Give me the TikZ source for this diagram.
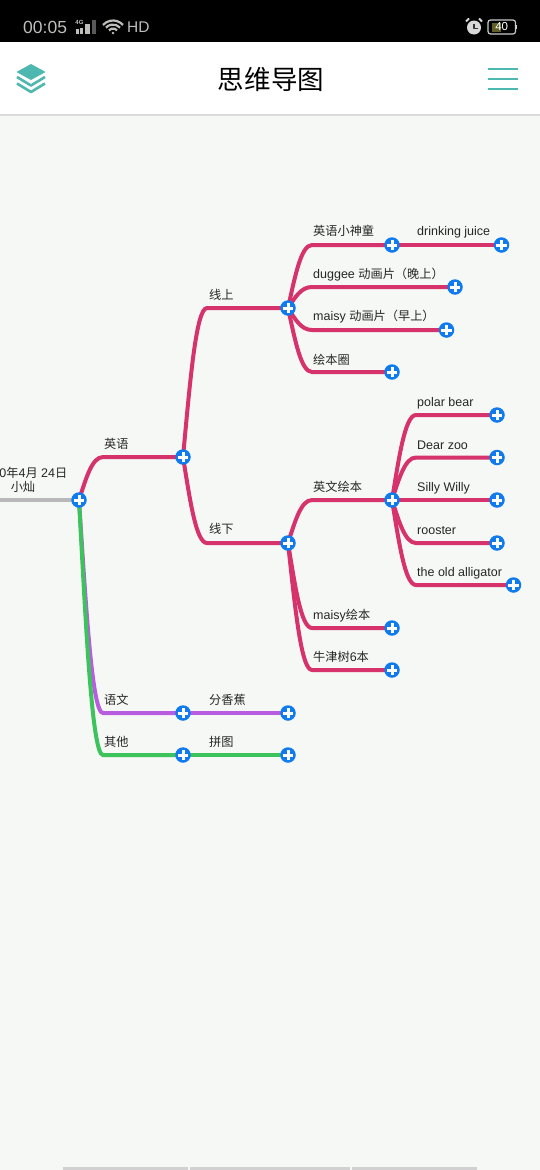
\documentclass[tikz,border=0pt]{standalone}
\usepackage{fontspec}
\usetikzlibrary{backgrounds,calc}
\setmainfont{Liberation Sans}
\newfontfamily\cjk[Scale=0.975]{Noto Sans CJK SC}
\newcommand{\cn}[1]{{\cjk #1}}
\definecolor{pagebg}{HTML}{F6F8F5}
\definecolor{plusblue}{HTML}{0F7BEF}
\definecolor{teal}{HTML}{4DB8B0}
\definecolor{rosepink}{HTML}{D6336C}
\definecolor{lilac}{HTML}{B85CE0}
\definecolor{leaf}{HTML}{3CC35C}
\definecolor{rootgray}{HTML}{B8B8B8}
\definecolor{barlight}{HTML}{BEBEBA}
\tikzset{
  plusdot/.style={circle, fill=plusblue, minimum size=15.5pt, inner sep=0pt,
    path picture={\draw[white, line width=3pt]
      (-5.2pt,0pt) -- (5.2pt,0pt) (0pt,-5.2pt) -- (0pt,5.2pt);}},
  lbl/.style={anchor=west, inner sep=0pt, text height=10.4pt, text depth=1.6pt,
    font=\fontsize{12.5}{14}\selectfont, text=black!85},
  branch/.style={line width=4pt, line cap=round},
  elbow/.style={to path={let \p1=(\tikztostart), \p2=(\tikztotarget) in
    (\p1) .. controls (\x1+7pt,{\y1+0.5*(\y2-\y1)}) and (\x1+13pt,\y2) .. (\x1+24pt,\y2) -- (\p2)}},
}
\begin{document}
\begin{tikzpicture}[x=1pt, y=-1pt, line join=round]
\useasboundingbox (0,0) rectangle (540,1170);

% --- Page ---
\begin{scope}[on background layer]
  \fill[pagebg] (0,0) rectangle (540,1170);
  \fill[black] (0,0) rectangle (540,42);
  \fill[white] (0,42) rectangle (540,114);
  \fill[black!14] (0,114) rectangle (540,116);
  \fill[black!18] (63,1167) rectangle (188,1170);
  \fill[black!18] (190,1167) rectangle (350,1170);
  \fill[black!18] (352,1167) rectangle (477,1170);
\end{scope}

% --- Status bar ---
\node[text=barlight, font=\fontsize{17.5}{18}\selectfont, anchor=west, inner sep=0pt] (clock) at (23,27.5) {00:05};
\node[text=barlight, font=\fontsize{6}{7}\selectfont\bfseries, inner sep=0pt] (net) at (79.5,22) {4G};
\fill[barlight] (75.7,29.3) rectangle (78.5,33.5);
\fill[barlight] (80,28) rectangle (83,33.5);
\fill[barlight] (85.3,24) rectangle (90,33.5);
\fill[black!65] (92.3,20) rectangle (95.6,33.5);
\foreach \r in {5.5,9.5,13.5}
  \draw[barlight, line width=2.2pt] ($(113,34)+(42:\r pt)$) arc[start angle=42, end angle=138, radius=\r pt];
\fill[barlight] (113,33) circle (1.4pt);
\node[text=barlight, font=\fontsize{15.5}{18}\selectfont, anchor=west, inner sep=0pt] (hd) at (127,27.5) {HD};
\fill[black!15] (474,27.5) circle (7pt);
\draw[black!15, line width=2pt] (466,21.5) -- (469,18.5) (482,21.5) -- (479,18.5);
\draw[black!80, line width=1.3pt] (474,23.5) -- (474,28.5) -- (477.5,28.5);
\draw[black!20, line width=1.2pt, rounded corners=2.5pt] (488,20) rectangle (515.5,34);
\fill[black!20] (516,25) rectangle (517.3,29);
\fill[olive!60!black] (491.5,22.5) rectangle (500.7,31.5);
\node[text=white, font=\fontsize{11.5}{12}\selectfont, inner sep=0pt] (batt) at (501.7,27) {40};

% --- Header ---
\node[font=\fontsize{27.2}{30}\cjk, inner sep=0pt] (title) at (271,79) {思维导图};
\fill[teal] (31,64) -- (45.5,72) -- (31,80) -- (16.5,72) -- cycle;
\draw[teal, line width=2.6pt] (17,77) -- (31,85.5) -- (45,77);
\draw[teal, line width=2.6pt] (17,83.5) -- (31,92) -- (45,83.5);
\foreach \y in {69,79,89}
  \draw[teal, line width=2pt] (487.5,\y) -- (517.5,\y);

% --- Plus nodes ---
\foreach \name/\x/\y in {root/79/500, english/183/457, chinese/183/713, other/183/755,
    online/288/308, offline/288/543, banana/288/713, puzzle/288/755,
    hero/392/245, duggee/455/287, maisytv/446.5/330, circle/392/372,
    books/392/500, maisybook/392/628, oxford/392/670,
    juice/501.5/245, polar/497/415, dearzoo/497/457.5, silly/497/500,
    rooster/497/543, gator/513.5/585}
  \node[plusdot] (\name) at (\x,\y) {};
\coordinate (rootin) at (0,500);

% --- Branches ---
\begin{scope}[on background layer]
  \draw[branch, rootgray] (rootin) -- (root);
  \foreach \from/\to in {root/english, english/online, english/offline,
      online/hero, hero/juice, online/duggee, online/maisytv, online/circle,
      offline/books, offline/maisybook, offline/oxford,
      books/polar, books/dearzoo, books/silly, books/rooster, books/gator}
    \draw[branch, rosepink] (\from) to[elbow] (\to);
  \draw[branch, lilac] (root) to[elbow] (chinese);
  \draw[branch, lilac] (chinese) -- (banana);
  \draw[branch, leaf] (root) to[elbow] (other);
  \draw[branch, leaf] (other) -- (puzzle);
\end{scope}

% --- Labels ---
\node[lbl, anchor=east] (rootdate) at (67.5,473) {0\cn{年}4\cn{月} 24\cn{日}};
\node[lbl, anchor=center] (rootname) at (23,487.5) {\cn{小灿}};
\node[lbl] (lenglish) at (104,444) {\cn{英语}};
\node[lbl] (lchinese) at (104,700) {\cn{语文}};
\node[lbl] (lother) at (104,742) {\cn{其他}};
\node[lbl] (lonline) at (209,295.5) {\cn{线上}};
\node[lbl] (loffline) at (209,529) {\cn{线下}};
\node[lbl] (lbanana) at (209,700) {\cn{分香蕉}};
\node[lbl] (lpuzzle) at (209,742) {\cn{拼图}};
\node[lbl] (lhero) at (313,231.5) {\cn{英语小神童}};
\node[lbl] (lduggee) at (313,274) {duggee \cn{动画片（晚上）}};
\node[lbl] (lmaisytv) at (313,316.5) {maisy \cn{动画片（早上）}};
\node[lbl] (lcircle) at (313,360) {\cn{绘本圈}};
\node[lbl] (lbooks) at (313,487) {\cn{英文绘本}};
\node[lbl] (lmaisybook) at (313,615) {maisy\cn{绘本}};
\node[lbl] (loxford) at (313,657.5) {\cn{牛津树}6\cn{本}};
\node[lbl] (ljuice) at (417,231.5) {drinking juice};
\node[lbl] (lpolar) at (417,402.5) {polar bear};
\node[lbl] (ldearzoo) at (417,445) {Dear zoo};
\node[lbl] (lsilly) at (417,487.5) {Silly Willy};
\node[lbl] (lrooster) at (417,530) {rooster};
\node[lbl] (lgator) at (417,572.5) {the old alligator};

\end{tikzpicture}
\end{document}
